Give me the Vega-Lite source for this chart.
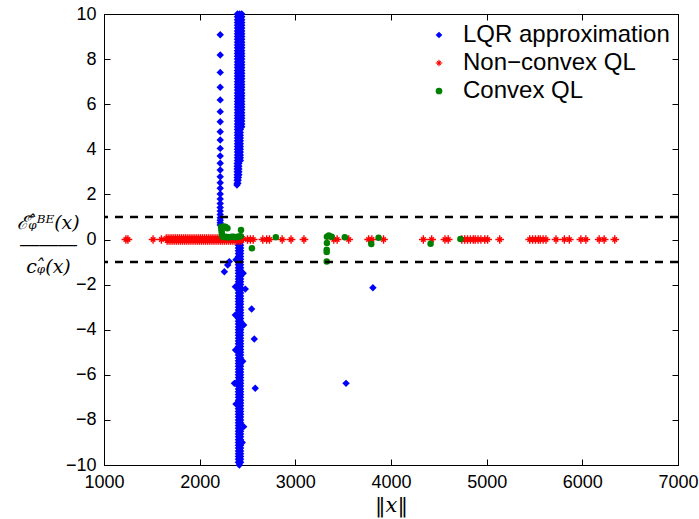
{
  "$schema": "https://vega.github.io/schema/vega-lite/v6.json",
  "width": 574,
  "height": 451,
  "autosize": {"type": "none"},
  "padding": {"left": 104, "top": 14, "right": 21, "bottom": 54},
  "background": "white",
  "config": {
    "view": {"stroke": "black", "strokeWidth": 1},
    "axis": {
      "grid": false,
      "domainColor": "black",
      "domainWidth": 1,
      "tickColor": "black",
      "tickWidth": 1,
      "tickSize": -6,
      "labelColor": "black",
      "labelFont": "Liberation Sans",
      "labelFontSize": 18,
      "labelFlush": false,
      "titleColor": "black",
      "titleFontWeight": "normal"
    },
    "legend": {
      "orient": "none",
      "legendX": 323,
      "legendY": 9,
      "padding": 0,
      "labelFont": "Liberation Sans",
      "labelFontSize": 24,
      "labelColor": "black",
      "labelLimit": 0,
      "labelOffset": 12,
      "rowPadding": 4,
      "symbolSize": 45,
      "symbolStrokeWidth": 0
    }
  },
  "datasets": {
    "lqr": [
      {"x": 2395, "y": 10}, {"x": 2418, "y": 10}, {"x": 2440, "y": 10},
      {"x": 2395, "y": 9.875}, {"x": 2418, "y": 9.875}, {"x": 2440, "y": 9.875},
      {"x": 2395, "y": 9.75}, {"x": 2418, "y": 9.75}, {"x": 2440, "y": 9.75},
      {"x": 2395, "y": 9.625}, {"x": 2418, "y": 9.625}, {"x": 2440, "y": 9.625},
      {"x": 2395, "y": 9.5}, {"x": 2418, "y": 9.5}, {"x": 2440, "y": 9.5},
      {"x": 2395, "y": 9.375}, {"x": 2418, "y": 9.375}, {"x": 2440, "y": 9.375},
      {"x": 2395, "y": 9.25}, {"x": 2418, "y": 9.25}, {"x": 2440, "y": 9.25},
      {"x": 2395, "y": 9.125}, {"x": 2418, "y": 9.125}, {"x": 2440, "y": 9.125},
      {"x": 2395, "y": 9}, {"x": 2418, "y": 9}, {"x": 2440, "y": 9},
      {"x": 2395, "y": 8.875}, {"x": 2418, "y": 8.875}, {"x": 2440, "y": 8.875},
      {"x": 2395, "y": 8.75}, {"x": 2418, "y": 8.75}, {"x": 2440, "y": 8.75},
      {"x": 2395, "y": 8.625}, {"x": 2418, "y": 8.625}, {"x": 2440, "y": 8.625},
      {"x": 2395, "y": 8.5}, {"x": 2418, "y": 8.5}, {"x": 2440, "y": 8.5},
      {"x": 2395, "y": 8.375}, {"x": 2418, "y": 8.375}, {"x": 2440, "y": 8.375},
      {"x": 2395, "y": 8.25}, {"x": 2418, "y": 8.25}, {"x": 2440, "y": 8.25},
      {"x": 2395, "y": 8.125}, {"x": 2418, "y": 8.125}, {"x": 2440, "y": 8.125},
      {"x": 2395, "y": 8}, {"x": 2418, "y": 8}, {"x": 2440, "y": 8},
      {"x": 2395, "y": 7.875}, {"x": 2418, "y": 7.875}, {"x": 2440, "y": 7.875},
      {"x": 2395, "y": 7.75}, {"x": 2418, "y": 7.75}, {"x": 2440, "y": 7.75},
      {"x": 2395, "y": 7.625}, {"x": 2418, "y": 7.625}, {"x": 2440, "y": 7.625},
      {"x": 2395, "y": 7.5}, {"x": 2418, "y": 7.5}, {"x": 2440, "y": 7.5},
      {"x": 2395, "y": 7.375}, {"x": 2418, "y": 7.375}, {"x": 2440, "y": 7.375},
      {"x": 2395, "y": 7.25}, {"x": 2418, "y": 7.25}, {"x": 2440, "y": 7.25},
      {"x": 2395, "y": 7.125}, {"x": 2418, "y": 7.125}, {"x": 2440, "y": 7.125},
      {"x": 2395, "y": 7}, {"x": 2418, "y": 7}, {"x": 2440, "y": 7},
      {"x": 2395, "y": 6.875}, {"x": 2418, "y": 6.875}, {"x": 2440, "y": 6.875},
      {"x": 2395, "y": 6.75}, {"x": 2418, "y": 6.75}, {"x": 2440, "y": 6.75},
      {"x": 2395, "y": 6.625}, {"x": 2418, "y": 6.625}, {"x": 2440, "y": 6.625},
      {"x": 2395, "y": 6.5}, {"x": 2418, "y": 6.5}, {"x": 2440, "y": 6.5},
      {"x": 2395, "y": 6.375}, {"x": 2418, "y": 6.375}, {"x": 2440, "y": 6.375},
      {"x": 2395, "y": 6.25}, {"x": 2418, "y": 6.25}, {"x": 2440, "y": 6.25},
      {"x": 2395, "y": 6.125}, {"x": 2418, "y": 6.125}, {"x": 2440, "y": 6.125},
      {"x": 2395, "y": 6}, {"x": 2418, "y": 6}, {"x": 2440, "y": 6},
      {"x": 2395, "y": 5.875}, {"x": 2418, "y": 5.875}, {"x": 2440, "y": 5.875},
      {"x": 2395, "y": 5.75}, {"x": 2418, "y": 5.75}, {"x": 2440, "y": 5.75},
      {"x": 2395, "y": 5.625}, {"x": 2418, "y": 5.625}, {"x": 2440, "y": 5.625},
      {"x": 2395, "y": 5.5}, {"x": 2418, "y": 5.5}, {"x": 2440, "y": 5.5},
      {"x": 2395, "y": 5.375}, {"x": 2418, "y": 5.375}, {"x": 2440, "y": 5.375},
      {"x": 2395, "y": 5.25}, {"x": 2418, "y": 5.25}, {"x": 2440, "y": 5.25},
      {"x": 2395, "y": 5.125}, {"x": 2418, "y": 5.125}, {"x": 2440, "y": 5.125},
      {"x": 2395, "y": 5}, {"x": 2418, "y": 5}, {"x": 2440, "y": 5},
      {"x": 2395, "y": 4.875}, {"x": 2425, "y": 4.875},
      {"x": 2395, "y": 4.75}, {"x": 2425, "y": 4.75},
      {"x": 2395, "y": 4.625}, {"x": 2425, "y": 4.625},
      {"x": 2395, "y": 4.5}, {"x": 2425, "y": 4.5},
      {"x": 2395, "y": 4.375}, {"x": 2425, "y": 4.375},
      {"x": 2395, "y": 4.25}, {"x": 2425, "y": 4.25},
      {"x": 2395, "y": 4.125}, {"x": 2425, "y": 4.125},
      {"x": 2395, "y": 4}, {"x": 2425, "y": 4},
      {"x": 2395, "y": 3.875}, {"x": 2425, "y": 3.875},
      {"x": 2395, "y": 3.75}, {"x": 2425, "y": 3.75},
      {"x": 2395, "y": 3.625}, {"x": 2425, "y": 3.625},
      {"x": 2395, "y": 3.5}, {"x": 2425, "y": 3.5},
      {"x": 2392, "y": 3.375}, {"x": 2410, "y": 3.375},
      {"x": 2392, "y": 3.25}, {"x": 2410, "y": 3.25},
      {"x": 2392, "y": 3.125}, {"x": 2410, "y": 3.125},
      {"x": 2392, "y": 3}, {"x": 2410, "y": 3},
      {"x": 2392, "y": 2.875}, {"x": 2410, "y": 2.875},
      {"x": 2392, "y": 2.75}, {"x": 2405, "y": 2.75},
      {"x": 2392, "y": 2.625}, {"x": 2402, "y": 2.625},
      {"x": 2392, "y": 2.5}, {"x": 2400, "y": 2.5},
      {"x": 2390, "y": 2.42},
      {"x": 2215, "y": 9.08}, {"x": 2215, "y": 8.18}, {"x": 2215, "y": 7.41},
      {"x": 2215, "y": 6.75}, {"x": 2215, "y": 6.19}, {"x": 2215, "y": 5.67},
      {"x": 2215, "y": 5.22}, {"x": 2215, "y": 4.78}, {"x": 2215, "y": 4.41},
      {"x": 2215, "y": 4.04}, {"x": 2215, "y": 3.7}, {"x": 2215, "y": 3.38},
      {"x": 2215, "y": 3.08}, {"x": 2215, "y": 2.78}, {"x": 2215, "y": 2.52},
      {"x": 2215, "y": 2.27}, {"x": 2215, "y": 2.02}, {"x": 2215, "y": 1.8},
      {"x": 2215, "y": 1.6}, {"x": 2215, "y": 1.42}, {"x": 2215, "y": 1.26},
      {"x": 2215, "y": 1.11}, {"x": 2215, "y": 0.97}, {"x": 2215, "y": 0.85},
      {"x": 2215, "y": 0.74}, {"x": 2215, "y": 0.64},
      {"x": 2405, "y": 0}, {"x": 2428, "y": 0},
      {"x": 2405, "y": -0.125}, {"x": 2428, "y": -0.125},
      {"x": 2405, "y": -0.25}, {"x": 2428, "y": -0.25},
      {"x": 2405, "y": -0.375}, {"x": 2428, "y": -0.375},
      {"x": 2405, "y": -0.5}, {"x": 2428, "y": -0.5},
      {"x": 2405, "y": -0.625}, {"x": 2428, "y": -0.625},
      {"x": 2405, "y": -0.75}, {"x": 2428, "y": -0.75},
      {"x": 2405, "y": -0.875}, {"x": 2428, "y": -0.875},
      {"x": 2405, "y": -1}, {"x": 2428, "y": -1},
      {"x": 2405, "y": -1.125}, {"x": 2428, "y": -1.125},
      {"x": 2405, "y": -1.25}, {"x": 2428, "y": -1.25},
      {"x": 2405, "y": -1.375}, {"x": 2428, "y": -1.375},
      {"x": 2405, "y": -1.5}, {"x": 2428, "y": -1.5},
      {"x": 2405, "y": -1.625}, {"x": 2428, "y": -1.625},
      {"x": 2405, "y": -1.75}, {"x": 2428, "y": -1.75},
      {"x": 2405, "y": -1.875}, {"x": 2428, "y": -1.875},
      {"x": 2405, "y": -2}, {"x": 2428, "y": -2},
      {"x": 2405, "y": -2.125}, {"x": 2428, "y": -2.125},
      {"x": 2405, "y": -2.25}, {"x": 2428, "y": -2.25},
      {"x": 2405, "y": -2.375}, {"x": 2428, "y": -2.375},
      {"x": 2405, "y": -2.5}, {"x": 2428, "y": -2.5},
      {"x": 2405, "y": -2.625}, {"x": 2428, "y": -2.625},
      {"x": 2405, "y": -2.75}, {"x": 2428, "y": -2.75},
      {"x": 2405, "y": -2.875}, {"x": 2428, "y": -2.875},
      {"x": 2405, "y": -3}, {"x": 2428, "y": -3},
      {"x": 2405, "y": -3.125}, {"x": 2428, "y": -3.125},
      {"x": 2405, "y": -3.25}, {"x": 2428, "y": -3.25},
      {"x": 2405, "y": -3.375}, {"x": 2428, "y": -3.375},
      {"x": 2405, "y": -3.5}, {"x": 2428, "y": -3.5},
      {"x": 2405, "y": -3.625}, {"x": 2428, "y": -3.625},
      {"x": 2405, "y": -3.75}, {"x": 2428, "y": -3.75},
      {"x": 2405, "y": -3.875}, {"x": 2428, "y": -3.875},
      {"x": 2405, "y": -4}, {"x": 2428, "y": -4},
      {"x": 2405, "y": -4.125}, {"x": 2428, "y": -4.125},
      {"x": 2405, "y": -4.25}, {"x": 2428, "y": -4.25},
      {"x": 2405, "y": -4.375}, {"x": 2428, "y": -4.375},
      {"x": 2405, "y": -4.5}, {"x": 2428, "y": -4.5},
      {"x": 2405, "y": -4.625}, {"x": 2428, "y": -4.625},
      {"x": 2405, "y": -4.75}, {"x": 2428, "y": -4.75},
      {"x": 2405, "y": -4.875}, {"x": 2428, "y": -4.875},
      {"x": 2405, "y": -5}, {"x": 2428, "y": -5},
      {"x": 2405, "y": -5.125}, {"x": 2428, "y": -5.125},
      {"x": 2405, "y": -5.25}, {"x": 2428, "y": -5.25},
      {"x": 2405, "y": -5.375}, {"x": 2428, "y": -5.375},
      {"x": 2405, "y": -5.5}, {"x": 2428, "y": -5.5},
      {"x": 2405, "y": -5.625}, {"x": 2428, "y": -5.625},
      {"x": 2405, "y": -5.75}, {"x": 2428, "y": -5.75},
      {"x": 2405, "y": -5.875}, {"x": 2428, "y": -5.875},
      {"x": 2405, "y": -6}, {"x": 2428, "y": -6},
      {"x": 2405, "y": -6.125}, {"x": 2428, "y": -6.125},
      {"x": 2405, "y": -6.25}, {"x": 2428, "y": -6.25},
      {"x": 2405, "y": -6.375}, {"x": 2428, "y": -6.375},
      {"x": 2405, "y": -6.5}, {"x": 2428, "y": -6.5},
      {"x": 2405, "y": -6.625}, {"x": 2428, "y": -6.625},
      {"x": 2405, "y": -6.75}, {"x": 2428, "y": -6.75},
      {"x": 2405, "y": -6.875}, {"x": 2428, "y": -6.875},
      {"x": 2405, "y": -7}, {"x": 2428, "y": -7},
      {"x": 2405, "y": -7.125}, {"x": 2428, "y": -7.125},
      {"x": 2405, "y": -7.25}, {"x": 2428, "y": -7.25},
      {"x": 2405, "y": -7.375}, {"x": 2428, "y": -7.375},
      {"x": 2405, "y": -7.5}, {"x": 2428, "y": -7.5},
      {"x": 2405, "y": -7.625}, {"x": 2428, "y": -7.625},
      {"x": 2405, "y": -7.75}, {"x": 2428, "y": -7.75},
      {"x": 2405, "y": -7.875}, {"x": 2428, "y": -7.875},
      {"x": 2405, "y": -8}, {"x": 2428, "y": -8},
      {"x": 2405, "y": -8.125}, {"x": 2428, "y": -8.125},
      {"x": 2405, "y": -8.25}, {"x": 2428, "y": -8.25},
      {"x": 2405, "y": -8.375}, {"x": 2428, "y": -8.375},
      {"x": 2405, "y": -8.5}, {"x": 2428, "y": -8.5},
      {"x": 2405, "y": -8.625}, {"x": 2428, "y": -8.625},
      {"x": 2405, "y": -8.75}, {"x": 2428, "y": -8.75},
      {"x": 2405, "y": -8.875}, {"x": 2428, "y": -8.875},
      {"x": 2405, "y": -9}, {"x": 2428, "y": -9},
      {"x": 2405, "y": -9.125}, {"x": 2428, "y": -9.125},
      {"x": 2405, "y": -9.25}, {"x": 2428, "y": -9.25},
      {"x": 2405, "y": -9.375}, {"x": 2428, "y": -9.375},
      {"x": 2405, "y": -9.5}, {"x": 2428, "y": -9.5},
      {"x": 2405, "y": -9.625}, {"x": 2428, "y": -9.625},
      {"x": 2405, "y": -9.75}, {"x": 2428, "y": -9.75},
      {"x": 2405, "y": -9.875}, {"x": 2428, "y": -9.875},
      {"x": 2415, "y": -10},
      {"x": 2373, "y": -2.09}, {"x": 2477, "y": -2.2}, {"x": 2373, "y": -3.35},
      {"x": 2460, "y": -3.79}, {"x": 2363, "y": -6.38}, {"x": 2460, "y": -8.3},
      {"x": 2380, "y": -0.9}, {"x": 2455, "y": -1.5}, {"x": 2375, "y": -4.9},
      {"x": 2450, "y": -5.4}, {"x": 2380, "y": -7.3}, {"x": 2445, "y": -9.0},
      {"x": 2258, "y": -1.43}, {"x": 2293, "y": -1.13}, {"x": 2310, "y": -0.98},
      {"x": 2543, "y": -3.08}, {"x": 2571, "y": -4.41}, {"x": 2581, "y": -6.6},
      {"x": 3811, "y": -2.14}, {"x": 3530, "y": -6.38}
    ],
    "nonconvex": [
      {"x": 1229, "y": 0}, {"x": 1250, "y": 0}, {"x": 1513, "y": 0}, {"x": 1600, "y": 0},
      {"x": 1650, "y": 0.04}, {"x": 1660, "y": -0.04}, {"x": 1670, "y": 0.04}, {"x": 1680, "y": -0.04},
      {"x": 1690, "y": 0.04}, {"x": 1700, "y": -0.04}, {"x": 1710, "y": 0.04}, {"x": 1720, "y": -0.04},
      {"x": 1730, "y": 0.04}, {"x": 1740, "y": -0.04}, {"x": 1750, "y": 0.04}, {"x": 1760, "y": -0.04},
      {"x": 1770, "y": 0.04}, {"x": 1780, "y": -0.04}, {"x": 1790, "y": 0.04}, {"x": 1800, "y": -0.04},
      {"x": 1810, "y": 0.04}, {"x": 1820, "y": -0.04}, {"x": 1830, "y": 0.04}, {"x": 1840, "y": -0.04},
      {"x": 1850, "y": 0.04}, {"x": 1860, "y": -0.04}, {"x": 1870, "y": 0.04}, {"x": 1880, "y": -0.04},
      {"x": 1890, "y": 0.04}, {"x": 1900, "y": -0.04}, {"x": 1910, "y": 0.04}, {"x": 1920, "y": -0.04},
      {"x": 1930, "y": 0.04}, {"x": 1940, "y": -0.04}, {"x": 1950, "y": 0.04}, {"x": 1960, "y": -0.04},
      {"x": 1970, "y": 0.04}, {"x": 1980, "y": -0.04}, {"x": 1990, "y": 0.04}, {"x": 2000, "y": -0.04},
      {"x": 2010, "y": 0.04}, {"x": 2020, "y": -0.04}, {"x": 2030, "y": 0.04}, {"x": 2040, "y": -0.04},
      {"x": 2050, "y": 0.04}, {"x": 2060, "y": -0.04}, {"x": 2070, "y": 0.04}, {"x": 2080, "y": -0.04},
      {"x": 2090, "y": 0.04}, {"x": 2100, "y": -0.04}, {"x": 2110, "y": 0.04}, {"x": 2120, "y": -0.04},
      {"x": 2130, "y": 0.04}, {"x": 2140, "y": -0.04}, {"x": 2150, "y": 0.04}, {"x": 2160, "y": -0.04},
      {"x": 2170, "y": 0.04}, {"x": 2180, "y": -0.04}, {"x": 2190, "y": 0.04}, {"x": 2200, "y": -0.04},
      {"x": 2210, "y": 0.04}, {"x": 2220, "y": -0.04}, {"x": 2230, "y": 0.04}, {"x": 2240, "y": -0.04},
      {"x": 2250, "y": 0.04}, {"x": 2260, "y": -0.04}, {"x": 2270, "y": 0.04}, {"x": 2280, "y": -0.04},
      {"x": 2290, "y": 0.04}, {"x": 2300, "y": -0.04}, {"x": 2310, "y": 0.04}, {"x": 2320, "y": -0.04},
      {"x": 2330, "y": 0.04}, {"x": 2340, "y": -0.04}, {"x": 2350, "y": 0.04}, {"x": 2360, "y": -0.04},
      {"x": 2370, "y": 0.04}, {"x": 2380, "y": -0.04}, {"x": 2390, "y": 0.04}, {"x": 2400, "y": -0.04},
      {"x": 2410, "y": 0.04}, {"x": 2420, "y": -0.04}, {"x": 2430, "y": 0.04}, {"x": 2440, "y": -0.04},
      {"x": 2450, "y": 0.04},
      {"x": 2500, "y": 0}, {"x": 2530, "y": 0}, {"x": 2560, "y": 0}, {"x": 2660, "y": 0},
      {"x": 2700, "y": 0}, {"x": 2730, "y": 0}, {"x": 2862, "y": 0}, {"x": 2955, "y": 0},
      {"x": 3090, "y": 0}, {"x": 3402, "y": 0}, {"x": 3437, "y": 0}, {"x": 3558, "y": 0},
      {"x": 3766, "y": 0}, {"x": 3800, "y": 0}, {"x": 3922, "y": 0},
      {"x": 4338, "y": 0}, {"x": 4425, "y": 0}, {"x": 4564, "y": 0}, {"x": 4598, "y": 0},
      {"x": 4740, "y": 0}, {"x": 4770, "y": 0}, {"x": 4800, "y": 0}, {"x": 4830, "y": 0},
      {"x": 4860, "y": 0}, {"x": 4880, "y": 0}, {"x": 4910, "y": 0}, {"x": 4940, "y": 0},
      {"x": 4980, "y": 0}, {"x": 5010, "y": 0}, {"x": 5136, "y": 0}, {"x": 5450, "y": 0},
      {"x": 5480, "y": 0}, {"x": 5510, "y": 0}, {"x": 5540, "y": 0}, {"x": 5560, "y": 0},
      {"x": 5590, "y": 0}, {"x": 5620, "y": 0}, {"x": 5725, "y": 0}, {"x": 5812, "y": 0},
      {"x": 5864, "y": 0}, {"x": 5985, "y": 0}, {"x": 6037, "y": 0}, {"x": 6176, "y": 0},
      {"x": 6228, "y": 0}, {"x": 6339, "y": 0}
    ],
    "convex": [
      {"x": 2225, "y": 0.55}, {"x": 2240, "y": 0.57}, {"x": 2255, "y": 0.58}, {"x": 2272, "y": 0.55},
      {"x": 2290, "y": 0.5}, {"x": 2228, "y": 0.45}, {"x": 2230, "y": 0.35}, {"x": 2232, "y": 0.24},
      {"x": 2236, "y": 0.13}, {"x": 2255, "y": 0.1}, {"x": 2275, "y": 0.12}, {"x": 2295, "y": 0.1},
      {"x": 2315, "y": 0.1}, {"x": 2335, "y": 0.12}, {"x": 2355, "y": 0.12}, {"x": 2375, "y": 0.1},
      {"x": 2395, "y": 0.12}, {"x": 2415, "y": 0.13}, {"x": 2430, "y": 0.15}, {"x": 2432, "y": 0.42},
      {"x": 2546, "y": -0.39}, {"x": 2796, "y": 0.1},
      {"x": 3330, "y": 0.12}, {"x": 3350, "y": 0.18}, {"x": 3380, "y": 0.12},
      {"x": 3330, "y": -0.15}, {"x": 3328, "y": -0.45}, {"x": 3328, "y": -0.55},
      {"x": 3328, "y": -0.98}, {"x": 3517, "y": 0.1}, {"x": 3794, "y": -0.2},
      {"x": 3870, "y": 0.08}, {"x": 4414, "y": -0.19}, {"x": 4726, "y": 0.02}
    ],
    "bounds": [{"y": 1}, {"y": -1}]
  },
  "layer": [
    {
      "data": {"name": "lqr"},
      "mark": {"type": "point", "filled": true, "opacity": 1, "size": 55},
      "encoding": {
        "x": {
          "field": "x",
          "type": "quantitative",
          "scale": {"domain": [1000, 7000], "nice": false},
          "axis": {
            "orient": "bottom",
            "values": [1000, 2000, 3000, 4000, 5000, 6000, 7000],
            "format": "d",
            "labelPadding": 14,
            "title": "‖x‖",
            "titleFont": "DejaVu Serif",
            "titleFontStyle": "italic",
            "titleFontSize": 21,
            "titlePadding": 3
          }
        },
        "y": {
          "field": "y",
          "type": "quantitative",
          "scale": {"domain": [-10, 10], "nice": false},
          "axis": {
            "orient": "left",
            "values": [-10, -8, -6, -4, -2, 0, 2, 4, 6, 8, 10],
            "labelPadding": 14,
            "title": ["ℰ̄ᵩ̂ᴮᴱ(x)", "―――", "cᵩ̂(x)"],
            "titleFont": "DejaVu Serif",
            "titleFontStyle": "italic",
            "titleFontSize": 19,
            "titleAngle": 0,
            "titleAlign": "center",
            "titleBaseline": "middle",
            "titleLineHeight": 22,
            "titleX": -56,
            "titleY": 208
          }
        },
        "color": {
          "datum": "LQR approximation",
          "type": "nominal",
          "scale": {
            "domain": ["LQR approximation", "Non−convex QL", "Convex QL"],
            "range": ["#0000ff", "#ff0000", "#008000"]
          },
          "legend": {"title": null}
        },
        "shape": {
          "datum": "LQR approximation",
          "type": "nominal",
          "scale": {
            "domain": ["LQR approximation", "Non−convex QL", "Convex QL"],
            "range": [
              "diamond",
              "M-1,-0.16L1,-0.16L1,0.16L-1,0.16Z M0.16,-1L0.16,1L-0.16,1L-0.16,-1Z M-0.42,-0.64L0.64,0.42L0.42,0.64L-0.64,-0.42Z M-0.64,0.42L0.42,-0.64L0.64,-0.42L-0.42,0.64Z",
              "circle"
            ]
          },
          "legend": {"title": null}
        }
      }
    },
    {
      "data": {"name": "nonconvex"},
      "mark": {"type": "point", "filled": true, "opacity": 1, "size": 75},
      "encoding": {
        "x": {"field": "x", "type": "quantitative", "axis": null},
        "y": {"field": "y", "type": "quantitative", "axis": null},
        "color": {"datum": "Non−convex QL", "type": "nominal"},
        "shape": {"datum": "Non−convex QL", "type": "nominal"}
      }
    },
    {
      "data": {"name": "convex"},
      "mark": {"type": "point", "filled": true, "opacity": 1, "size": 42},
      "encoding": {
        "x": {"field": "x", "type": "quantitative", "axis": null},
        "y": {"field": "y", "type": "quantitative", "axis": null},
        "color": {"datum": "Convex QL", "type": "nominal"},
        "shape": {"datum": "Convex QL", "type": "nominal"}
      }
    },
    {
      "data": {"name": "bounds"},
      "mark": {"type": "rule", "color": "black", "strokeWidth": 2.5, "strokeDash": [8, 7]},
      "encoding": {
        "y": {
          "field": "y",
          "type": "quantitative",
          "axis": {
            "orient": "right",
            "values": [-10, -8, -6, -4, -2, 0, 2, 4, 6, 8, 10],
            "labels": false,
            "title": null
          }
        }
      }
    },
    {
      "data": {"name": "bounds"},
      "mark": {"type": "rule", "opacity": 0},
      "encoding": {
        "x": {
          "datum": 1000,
          "type": "quantitative",
          "axis": {
            "orient": "top",
            "values": [1000, 2000, 3000, 4000, 5000, 6000, 7000],
            "labels": false,
            "title": null
          }
        }
      }
    }
  ],
  "resolve": {"axis": {"x": "independent", "y": "independent"}}
}
